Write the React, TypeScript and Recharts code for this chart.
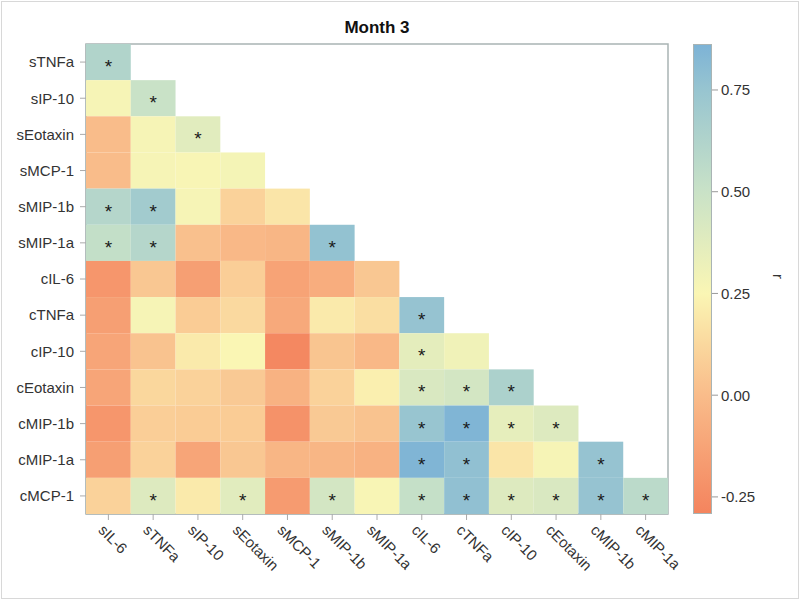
import React from 'react';
import { ScatterChart, Scatter, XAxis, YAxis, ReferenceArea, ComposedChart } from 'recharts';

const rowLabels = ['sTNFa', 'sIP-10', 'sEotaxin', 'sMCP-1', 'sMIP-1b', 'sMIP-1a', 'cIL-6', 'cTNFa', 'cIP-10', 'cEotaxin', 'cMIP-1b', 'cMIP-1a', 'cMCP-1'];
const colLabels = ['sIL-6', 'sTNFa', 'sIP-10', 'sEotaxin', 'sMCP-1', 'sMIP-1b', 'sMIP-1a', 'cIL-6', 'cTNFa', 'cIP-10', 'cEotaxin', 'cMIP-1b', 'cMIP-1a'];

const corrRows: number[][] = [
  [0.62],
  [0.27, 0.5],
  [0.0, 0.27, 0.38],
  [0.0, 0.27, 0.26, 0.28],
  [0.6, 0.7, 0.27, 0.1, 0.18],
  [0.53, 0.6, 0.02, -0.02, -0.03, 0.77],
  [-0.2, 0.05, -0.15, 0.08, -0.13, -0.08, 0.05],
  [-0.15, 0.27, 0.07, 0.13, -0.1, 0.2, 0.15, 0.76],
  [-0.12, 0.03, 0.2, 0.25, -0.27, 0.04, -0.02, 0.36, 0.3],
  [-0.12, 0.12, 0.1, 0.06, -0.05, 0.1, 0.22, 0.42, 0.45, 0.65],
  [-0.2, 0.08, 0.07, 0.07, -0.22, 0.06, 0.03, 0.75, 0.85, 0.35, 0.4],
  [-0.15, 0.1, -0.12, 0.05, -0.03, -0.03, -0.05, 0.85, 0.78, 0.18, 0.27, 0.76],
  [0.1, 0.4, 0.2, 0.38, -0.17, 0.45, 0.26, 0.52, 0.78, 0.4, 0.42, 0.76, 0.57],
];

const sigRows: number[][] = [
  [1],
  [0, 1],
  [0, 0, 1],
  [0, 0, 0, 0],
  [1, 1, 0, 0, 0],
  [1, 1, 0, 0, 0, 1],
  [0, 0, 0, 0, 0, 0, 0],
  [0, 0, 0, 0, 0, 0, 0, 1],
  [0, 0, 0, 0, 0, 0, 0, 1, 0],
  [0, 0, 0, 0, 0, 0, 0, 1, 1, 1],
  [0, 0, 0, 0, 0, 0, 0, 1, 1, 1, 1],
  [0, 0, 0, 0, 0, 0, 0, 1, 1, 0, 0, 1],
  [0, 1, 0, 1, 0, 1, 0, 1, 1, 1, 1, 1, 1],
];

const colorbarTicks = [-0.25, 0, 0.25, 0.5, 0.75];
const colorDomain: [number, number] = [-0.292, 0.863];
const colorStopValues = [-0.292, 0.0, 0.125, 0.25, 0.5, 0.75, 0.863];
const colorStopColors = ['#F4845E', '#F9BC8A', '#FAD89E', '#FAF6B4', '#C9E2C7', '#98C5D0', '#7DB3D6'];

const cells = corrRows.flatMap((row, i) =>
  row.map((r, j) => ({ x: j, y: i, r, sig: sigRows[i][j] === 1 }))
);

const hexToRgb = (h: string) => [1, 3, 5].map((k) => parseInt(h.slice(k, k + 2), 16));
const colorFor = (v: number) => {
  const vs = colorStopValues;
  if (v <= vs[0]) return colorStopColors[0];
  if (v >= vs[vs.length - 1]) return colorStopColors[vs.length - 1];
  for (let k = 0; k < vs.length - 1; k++) {
    if (v >= vs[k] && v <= vs[k + 1]) {
      const t = (v - vs[k]) / (vs[k + 1] - vs[k]);
      const a = hexToRgb(colorStopColors[k]);
      const b = hexToRgb(colorStopColors[k + 1]);
      const c = a.map((av, idx) => Math.round(av + (b[idx] - av) * t));
      return `rgb(${c[0]},${c[1]},${c[2]})`;
    }
  }
  return '#fff';
};

const FONT = '"Liberation Sans", Arial, sans-serif';
const CHART_W = 800;
const CHART_H = 600;
const MARGIN = { top: 44, right: 132, bottom: 0, left: 0 };
const Y_AXIS_W = 86;
const X_AXIS_H = 86;
const PLOT_W = CHART_W - MARGIN.right - MARGIN.left - Y_AXIS_W;
const PLOT_H = CHART_H - MARGIN.top - MARGIN.bottom - X_AXIS_H;
const CW = PLOT_W / colLabels.length;
const CH = PLOT_H / rowLabels.length;
const FRAME = '#a9b4b4';
const CB_LEFT = 693;
const CB_W = 19;

const CellShape = (props: any) => {
  const { cx, cy, payload } = props;
  return (
    <g>
      <rect x={cx - CW / 2} y={cy - CH / 2} width={CW} height={CH} fill={colorFor(payload.r)} />
      {payload.sig ? (
        <text x={cx} y={cy + 11} textAnchor="middle" fontSize={19} fontFamily={FONT} fill="#1a1a1a">
          *
        </text>
      ) : null}
    </g>
  );
};

const XTick = (props: any) => {
  const { x, y, payload } = props;
  const tx = x - 11;
  const ty = y + 9;
  return (
    <text
      x={tx}
      y={ty}
      transform={`rotate(45 ${tx} ${ty})`}
      textAnchor="start"
      fontSize={15}
      fontFamily={FONT}
      fill="#333"
    >
      {colLabels[payload.value]}
    </text>
  );
};

const idx = rowLabels.map((_, i) => i);

export default function App() {
  const gradCss = colorStopValues
    .map((v, k) => `${colorStopColors[k]} ${(((colorDomain[1] - v) / (colorDomain[1] - colorDomain[0])) * 100).toFixed(2)}%`)
    .reverse()
    .reverse()
    .sort((a, b) => parseFloat(a.split(' ')[1]) - parseFloat(b.split(' ')[1]))
    .join(', ');
  return (
    <div style={{ position: 'absolute', left: 0, top: 0, width: 800, height: 600, background: '#fff', fontFamily: FONT }}>
      <div
        style={{
          position: 'absolute',
          left: MARGIN.left + Y_AXIS_W,
          width: PLOT_W,
          top: 18,
          textAlign: 'center',
          fontSize: 17,
          fontWeight: 'bold',
          color: '#111',
        }}
      >
        Month 3
      </div>
      <div style={{ position: 'absolute', left: 0, top: 0 }}>
        <ScatterChart width={CHART_W} height={CHART_H} margin={MARGIN}>
          <XAxis
            type="number"
            dataKey="x"
            domain={[-0.5, colLabels.length - 0.5]}
            ticks={colLabels.map((_, i) => i)}
            interval={0}
            height={X_AXIS_H}
            tick={<XTick />}
            tickSize={6}
            tickMargin={2}
            axisLine={{ stroke: FRAME }}
            tickLine={{ stroke: '#aaa' }}
            allowDataOverflow
          />
          <YAxis
            type="number"
            dataKey="y"
            reversed
            domain={[-0.5, rowLabels.length - 0.5]}
            ticks={idx}
            interval={0}
            width={Y_AXIS_W}
            tickFormatter={(v: number) => rowLabels[v]}
            tick={{ fontSize: 15, fill: '#333', fontFamily: FONT }}
            tickSize={6}
            tickMargin={6}
            axisLine={{ stroke: FRAME }}
            tickLine={{ stroke: '#aaa' }}
            allowDataOverflow
          />
          <Scatter data={cells} shape={<CellShape />} isAnimationActive={false} />
          <ReferenceArea
            x1={-0.5}
            x2={colLabels.length - 0.5}
            y1={-0.5}
            y2={rowLabels.length - 0.5}
            fill="none"
            fillOpacity={0}
            stroke={FRAME}
            strokeWidth={1.5}
            ifOverflow="visible"
          />
        </ScatterChart>
      </div>
      <div
        style={{
          position: 'absolute',
          left: CB_LEFT,
          top: MARGIN.top,
          width: CB_W,
          height: PLOT_H,
          boxSizing: 'border-box',
          border: `1px solid ${FRAME}`,
          background: `linear-gradient(to bottom, ${gradCss})`,
        }}
      />
      <div style={{ position: 'absolute', left: CB_LEFT - 3, top: 0 }}>
        <ComposedChart
          width={800 - CB_LEFT + 3}
          height={600}
          margin={{ top: MARGIN.top, bottom: X_AXIS_H, left: 3, right: 0 }}
          data={colorbarTicks.map((v) => ({ v }))}
        >
          <XAxis hide type="number" domain={[0, 1]} />
          <YAxis
            orientation="right"
            type="number"
            domain={colorDomain}
            ticks={colorbarTicks}
            width={800 - CB_LEFT - CB_W}
            allowDataOverflow
            tickFormatter={(v: number) => v.toFixed(2)}
            tick={{ fontSize: 15, fill: '#333', fontFamily: FONT }}
            tickSize={6}
            tickMargin={3}
            axisLine={false}
            tickLine={{ stroke: '#999' }}
            label={{ value: 'r', angle: 90, position: 'insideRight', offset: 22, fontSize: 15, fill: '#333', fontFamily: FONT }}
          />
        </ComposedChart>
      </div>
      <div
        style={{
          position: 'absolute',
          left: 1,
          top: 1,
          width: 798,
          height: 598,
          boxSizing: 'border-box',
          border: '1px solid #d8d8d8',
          pointerEvents: 'none',
        }}
      />
    </div>
  );
}
